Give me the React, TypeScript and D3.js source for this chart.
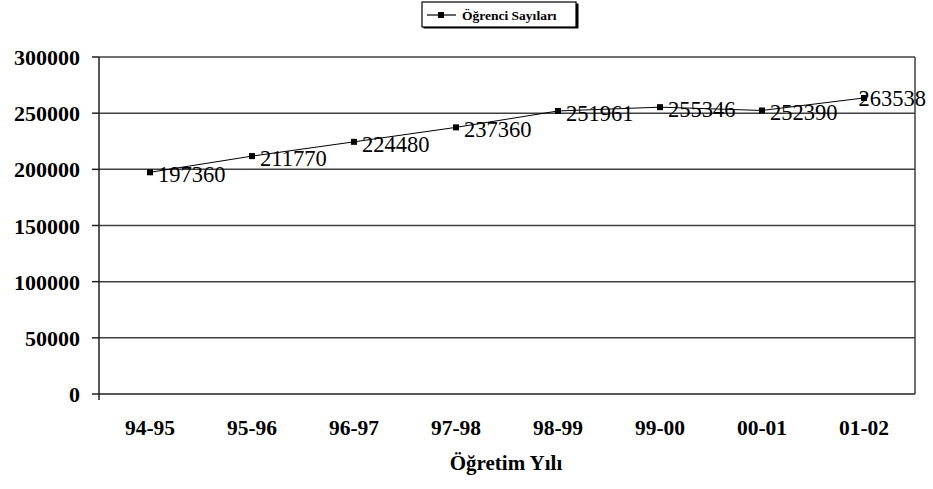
import * as d3 from "d3";

const W = 933;
const H = 489;
const MARGIN = { top: 57, right: 18, bottom: 95, left: 99 };

const YEARS = ["94-95", "95-96", "96-97", "97-98", "98-99", "99-00", "00-01", "01-02"];
const STUDENTS = [197360, 211770, 224480, 237360, 251961, 255346, 252390, 263538];
const Y_TICKS = [0, 50000, 100000, 150000, 200000, 250000, 300000];

const SERIF = "Liberation Serif";
const LABEL_SIZE = 22.5;

export default function App() {
  const x0 = MARGIN.left;
  const x1 = W - MARGIN.right;
  const y0 = H - MARGIN.bottom;
  const y1 = MARGIN.top;

  const x = d3.scaleBand<string>().domain(YEARS).range([x0, x1]);
  const y = d3.scaleLinear().domain([0, 300000]).range([y0, y1]);
  const cx = (d: string) => (x(d) ?? 0) + x.bandwidth() / 2;

  const line = d3.line<number>()
    .x((_, i) => cx(YEARS[i]))
    .y((v) => y(v));

  // digits in Liberation Serif are 0.5em wide
  const labelPos = (v: number, i: number) => {
    const w = String(v).length * LABEL_SIZE * 0.5;
    const lx = cx(YEARS[i]) + 8;
    if (lx + w > W - 7) return { lx: W - 7 - w, ly: y(v) + 8 };
    return { lx, ly: y(v) + 10 };
  };

  return (
    <svg
      width={W}
      height={H}
      style={{ position: "absolute", left: 0, top: 0, display: "block", background: "#fff" }}
    >
      {/* gridlines */}
      {Y_TICKS.filter((v) => v > 0).map((v) => (
        <line key={"g" + v} x1={x0} x2={x1} y1={y(v)} y2={y(v)} stroke="#404040" strokeWidth={1.5} />
      ))}
      {/* plot area right border */}
      <line x1={x1} x2={x1} y1={y1} y2={y0} stroke="#404040" strokeWidth={1.5} />

      {/* axes */}
      <line x1={x0} x2={x1} y1={y0} y2={y0} stroke="#202020" strokeWidth={1.5} />
      <line x1={x0} x2={x0} y1={y1} y2={y0 + 6} stroke="#202020" strokeWidth={1.5} />

      {/* y ticks */}
      {Y_TICKS.map((v) => (
        <g key={"t" + v}>
          <line x1={x0 - 7} x2={x0} y1={y(v)} y2={y(v)} stroke="#202020" strokeWidth={1.5} />
          <text x={80} y={y(v) + 8} textAnchor="end" fontFamily={SERIF} fontSize={22} fontWeight="bold" fill="#000">
            {v}
          </text>
        </g>
      ))}

      {/* x labels */}
      {YEARS.map((d) => (
        <text key={d} x={cx(d)} y={435} textAnchor="middle" fontFamily={SERIF} fontSize={21.5} fontWeight="bold" fill="#000">
          {d}
        </text>
      ))}

      <text x={506} y={470} textAnchor="middle" fontFamily={SERIF} fontSize={21} fontWeight="bold" fill="#000">
        Öğretim Yılı
      </text>

      {/* series */}
      <path d={line(STUDENTS) ?? ""} fill="none" stroke="#000" strokeWidth={1} />
      {STUDENTS.map((v, i) => (
        <rect key={"m" + i} x={cx(YEARS[i]) - 3} y={y(v) - 3} width={6} height={6} fill="#000" />
      ))}
      {STUDENTS.map((v, i) => {
        const { lx, ly } = labelPos(v, i);
        return (
          <text key={"l" + i} x={lx} y={ly} fontFamily={SERIF} fontSize={LABEL_SIZE} fill="#000">
            {v}
          </text>
        );
      })}

      {/* legend */}
      <g transform="translate(422,2)">
        <rect x={1.5} y={1.5} width={155} height={25} fill="#000" />
        <rect x={0} y={0} width={154} height={25} fill="#fff" stroke="#000" strokeWidth={1.2} />
        <line x1={5} x2={34} y1={13} y2={13} stroke="#000" strokeWidth={1.2} />
        <rect x={16} y={10} width={6} height={6} fill="#000" />
        <text x={40} y={18} fontFamily={SERIF} fontSize={13.5} fontWeight="bold" fill="#000">
          Öğrenci Sayıları
        </text>
      </g>
    </svg>
  );
}
